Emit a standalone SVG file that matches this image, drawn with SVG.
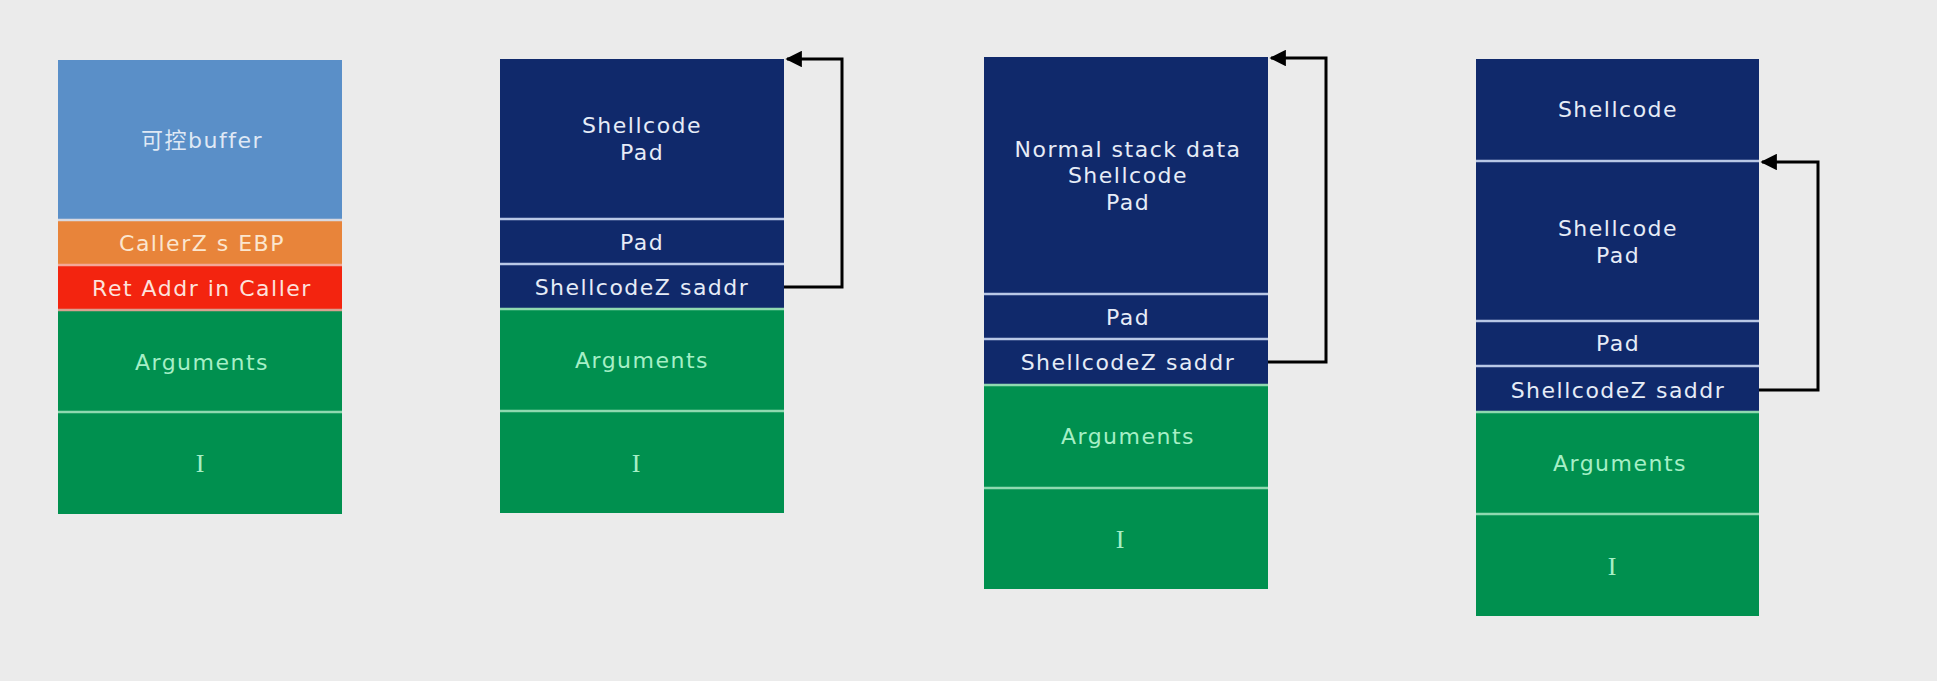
<svg xmlns="http://www.w3.org/2000/svg" width="1937" height="681" viewBox="0 0 1937 681">
<defs>
<marker id="ah" viewBox="0 0 10 10" refX="9" refY="5" markerWidth="6.5" markerHeight="5.5" orient="auto" markerUnits="strokeWidth">
<path d="M0,0 L10,5 L0,10 Z" fill="#000"/>
</marker>
</defs>
<style>
.t{font-family:"DejaVu Sans","Noto Sans CJK SC",sans-serif;font-size:22px;letter-spacing:1.5px;text-anchor:middle;dominant-baseline:central}
.i{font-family:"Liberation Serif",serif;font-size:26px;letter-spacing:0}
.navy{fill:#10296b}
.green{fill:#00904f}
.sepN{stroke:#b9c8e6;stroke-width:2.5}
.sepG{stroke:#8fd9b0;stroke-width:2.5}
.tN{fill:#e6ecf7}
.tG{fill:#a6efc6}
.conn{fill:none;stroke:#000;stroke-width:3;marker-end:url(#ah)}
</style>
<rect width="1937" height="681" fill="#ebebeb"/>

<g id="stack1">
<rect x="58" y="60" width="284" height="160" fill="#5a8fc8"/>
<rect x="58" y="220" width="284" height="45" fill="#e8843a"/>
<rect x="58" y="265" width="284" height="45" fill="#f3240f"/>
<rect x="58" y="310" width="284" height="103" class="green"/>
<rect x="58" y="413" width="284" height="101" class="green"/>
<line x1="58" y1="220" x2="342" y2="220" stroke="#d8d8e0" stroke-width="2.5"/>
<line x1="58" y1="265" x2="342" y2="265" stroke="#f3a898" stroke-width="2.5"/>
<line x1="58" y1="310" x2="342" y2="310" stroke="#d8a090" stroke-width="2.5"/>
<line x1="58" y1="412" x2="342" y2="412" class="sepG"/>
<text x="202" y="140" class="t" fill="#dfe8f5">可控buffer</text>
<text x="202" y="243" class="t" fill="#fbe6cf">CallerZ s EBP</text>
<text x="202" y="288" class="t" fill="#fde2dc">Ret Addr in Caller</text>
<text x="202" y="362" class="t tG">Arguments</text>
<text x="200" y="463" class="t tG i">I</text>
</g>

<g id="stack2">
<rect x="500" y="59" width="284" height="160" class="navy"/>
<rect x="500" y="219" width="284" height="45" class="navy"/>
<rect x="500" y="264" width="284" height="45" class="navy"/>
<rect x="500" y="309" width="284" height="103" class="green"/>
<rect x="500" y="412" width="284" height="101" class="green"/>
<line x1="500" y1="219" x2="784" y2="219" class="sepN"/>
<line x1="500" y1="264" x2="784" y2="264" class="sepN"/>
<line x1="500" y1="309" x2="784" y2="309" class="sepG"/>
<line x1="500" y1="411" x2="784" y2="411" class="sepG"/>
<text x="642" y="125" class="t tN">Shellcode</text>
<text x="642" y="152" class="t tN">Pad</text>
<text x="642" y="242" class="t tN">Pad</text>
<text x="642" y="287" class="t tN">ShellcodeZ saddr</text>
<text x="642" y="360" class="t tG">Arguments</text>
<text x="636" y="463" class="t tG i">I</text>
</g>

<g id="stack3">
<rect x="984" y="57" width="284" height="237" class="navy"/>
<rect x="984" y="294" width="284" height="45" class="navy"/>
<rect x="984" y="339" width="284" height="46" class="navy"/>
<rect x="984" y="385" width="284" height="103" class="green"/>
<rect x="984" y="488" width="284" height="101" class="green"/>
<line x1="984" y1="294" x2="1268" y2="294" class="sepN"/>
<line x1="984" y1="339" x2="1268" y2="339" class="sepN"/>
<line x1="984" y1="385" x2="1268" y2="385" class="sepG"/>
<line x1="984" y1="488" x2="1268" y2="488" class="sepG"/>
<text x="1128" y="149" class="t tN">Normal stack data</text>
<text x="1128" y="175" class="t tN">Shellcode</text>
<text x="1128" y="202" class="t tN">Pad</text>
<text x="1128" y="317" class="t tN">Pad</text>
<text x="1128" y="362" class="t tN">ShellcodeZ saddr</text>
<text x="1128" y="436" class="t tG">Arguments</text>
<text x="1120" y="539" class="t tG i">I</text>
</g>

<g id="stack4">
<rect x="1476" y="59" width="283" height="102" class="navy"/>
<rect x="1476" y="161" width="283" height="160" class="navy"/>
<rect x="1476" y="321" width="283" height="45" class="navy"/>
<rect x="1476" y="366" width="283" height="46" class="navy"/>
<rect x="1476" y="412" width="283" height="102" class="green"/>
<rect x="1476" y="514" width="283" height="102" class="green"/>
<line x1="1476" y1="161" x2="1759" y2="161" class="sepN"/>
<line x1="1476" y1="321" x2="1759" y2="321" class="sepN"/>
<line x1="1476" y1="366" x2="1759" y2="366" class="sepN"/>
<line x1="1476" y1="412" x2="1759" y2="412" class="sepG"/>
<line x1="1476" y1="514" x2="1759" y2="514" class="sepG"/>
<text x="1618" y="109" class="t tN">Shellcode</text>
<text x="1618" y="228" class="t tN">Shellcode</text>
<text x="1618" y="255" class="t tN">Pad</text>
<text x="1618" y="343" class="t tN">Pad</text>
<text x="1618" y="390" class="t tN">ShellcodeZ saddr</text>
<text x="1620" y="463" class="t tG">Arguments</text>
<text x="1612" y="566" class="t tG i">I</text>
</g>

<g id="connectors">
<polyline class="conn" points="784,287 842,287 842,59 787,59"/>
<polyline class="conn" points="1268,362 1326,362 1326,58 1271,58"/>
<polyline class="conn" points="1759,390 1818,390 1818,162 1762,162"/>
</g>
</svg>
